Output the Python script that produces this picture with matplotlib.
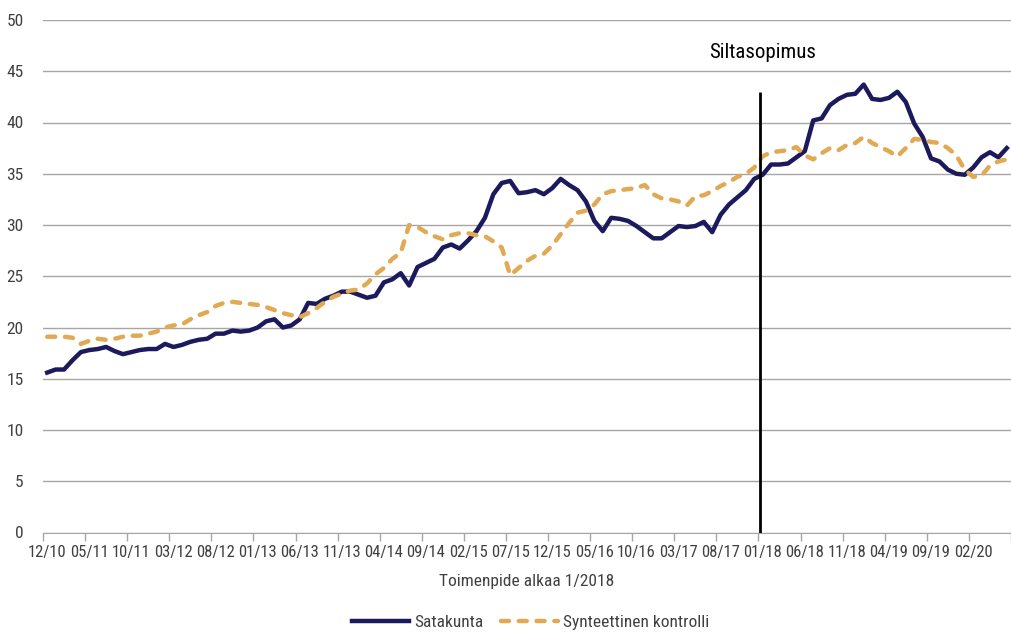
import matplotlib
matplotlib.use("Agg")
import matplotlib.pyplot as plt
import numpy as np
from matplotlib import font_manager

# monthly values, 12/2010 onwards
satakunta = [
    15.6, 15.9, 15.9, 16.8, 17.6, 17.8, 17.9, 18.1, 17.7, 17.4,
    17.6, 17.8, 17.9, 17.9, 18.4, 18.1, 18.3, 18.6, 18.8, 18.9,
    19.4, 19.4, 19.7, 19.6, 19.7, 20.0, 20.6, 20.8, 20.0, 20.2,
    20.8, 22.4, 22.3, 22.8, 23.1, 23.5, 23.5, 23.2, 22.9, 23.1,
    24.4, 24.7, 25.3, 24.1, 25.9, 26.3, 26.7, 27.8, 28.1, 27.7,
    28.5, 29.4, 30.7, 33.0, 34.1, 34.3, 33.1, 33.2, 33.4, 33.0,
    33.6, 34.5, 33.9, 33.4, 32.3, 30.4, 29.4, 30.7, 30.6, 30.4,
    29.9, 29.3, 28.7, 28.7, 29.3, 29.9, 29.8, 29.9, 30.3, 29.3,
    31.0, 32.0, 32.7, 33.4, 34.5, 34.9, 35.9, 35.9, 36.0, 36.6,
    37.2, 40.2, 40.4, 41.7, 42.3, 42.7, 42.8, 43.7, 42.3, 42.2,
    42.4, 43.0, 42.0, 39.9, 38.6, 36.5, 36.2, 35.4, 35.0, 34.9,
    35.6, 36.6, 37.1, 36.6, 37.5,
]
synteettinen = [
    19.1, 19.1, 19.1, 19.0, 18.4, 18.7, 18.9, 18.8, 18.9, 19.1,
    19.2, 19.2, 19.4, 19.6, 20.0, 20.2, 20.3, 20.8, 21.2, 21.5,
    22.1, 22.4, 22.5, 22.4, 22.3, 22.2, 22.0, 21.7, 21.4, 21.2,
    21.0, 21.4, 21.9, 22.5, 23.0, 23.3, 23.6, 23.7, 24.3, 25.2,
    25.8, 26.7, 27.3, 30.0, 29.8, 29.3, 28.9, 28.6, 29.0, 29.2,
    29.2, 29.0, 28.9, 28.4, 27.8, 25.1, 25.8, 26.5, 27.0, 27.2,
    28.0, 29.1, 30.2, 31.2, 31.4, 32.0, 33.0, 33.3, 33.4, 33.5,
    33.6, 33.9, 33.0, 32.6, 32.5, 32.3, 31.9, 32.8, 32.9, 33.3,
    33.8, 34.2, 34.7, 35.0, 35.6, 36.7, 37.1, 37.2, 37.3, 37.6,
    36.8, 36.4, 37.0, 37.5, 37.3, 37.8, 38.0, 38.6, 38.0, 37.6,
    37.2, 36.7, 37.5, 38.4, 38.3, 38.1, 38.0, 37.5, 36.8, 35.4,
    34.7, 34.8, 35.8, 36.2, 36.4,
]
tick_labels = ["12/10", "05/11", "10/11", "03/12", "08/12", "01/13", "06/13",
               "11/13", "04/14", "09/14", "02/15", "07/15", "12/15", "05/16",
               "10/16", "03/17", "08/17", "01/18", "06/18", "11/18", "04/19",
               "09/19", "02/20"]
event_label = "Siltasopimus"
event_pos = 84.7  # just before 01/18
event_top = 43

# the original uses a condensed face; take one if there is any
names = {f.name for f in font_manager.fontManager.ttflist}
narrow = [n for n in ["Liberation Sans Narrow", "Roboto Condensed",
                      "Noto Sans Condensed", "Open Sans Condensed"] if n in names]
if narrow:
    font, fs_tick, fs_txt, fs_event = narrow[0], 12, 12.5, 15
else:
    font, fs_tick, fs_txt, fs_event = "Liberation Sans", 11, 11.5, 14
plt.rcParams["font.family"] = [font, "DejaVu Sans"]

navy = "#1c1a5c"
orange = "#e2a954"
grey = "#a6a6a6"
txt = "#404040"

W, H = 1011, 634
fig = plt.figure(figsize=(W / 100, H / 100), dpi=100)
ax = fig.add_axes([43 / W, 1 - 532.5 / H, (W - 43) / W, 512.5 / H])

x = np.arange(len(satakunta))
ax.plot(x, satakunta, color=navy, lw=3.2, label="Satakunta", zorder=3)
ax.plot(x, synteettinen, color=orange, lw=3.2, dashes=(1.8, 2.2),
        dash_capstyle="round", label="Synteettinen kontrolli", zorder=3)

ax.vlines(event_pos, 0, event_top, color="black", lw=2, zorder=4)
ax.text(event_pos + 0.3, 46.8, event_label, ha="center", va="center",
        fontsize=fs_event, color="black")

ax.set_xlim(-0.5, -0.5 + (W - 43) / 8.5)
ax.set_ylim(0, 50)

ax.set_xticks(np.arange(0, 5 * len(tick_labels), 5))
ax.set_xticklabels(tick_labels)
ax.set_xticks(np.arange(-0.5, len(satakunta), 5), minor=True)
ax.tick_params(axis="x", which="major", length=0, pad=9, labelsize=fs_tick, labelcolor=txt)
ax.tick_params(axis="x", which="minor", length=6, width=1, color=grey)
ax.set_yticks(np.arange(0, 51, 5))
ax.tick_params(axis="y", length=0, pad=14, labelsize=fs_tick + 0.5, labelcolor=txt)

ax.yaxis.grid(True, color=grey, lw=1)
ax.set_axisbelow(True)
for s in ["top", "right", "left"]:
    ax.spines[s].set_visible(False)
ax.spines["bottom"].set_color(grey)

ax.set_xlabel("Toimenpide alkaa 1/2018", fontsize=fs_txt, color=txt, labelpad=10)

fig.legend(loc="lower center", bbox_to_anchor=(0.525, -0.01), ncol=2, frameon=False,
           fontsize=fs_txt, handlelength=3.3, columnspacing=1.0, handletextpad=0.3,
           borderaxespad=0.2, labelcolor=txt)

fig.savefig("out.png", dpi=100)
